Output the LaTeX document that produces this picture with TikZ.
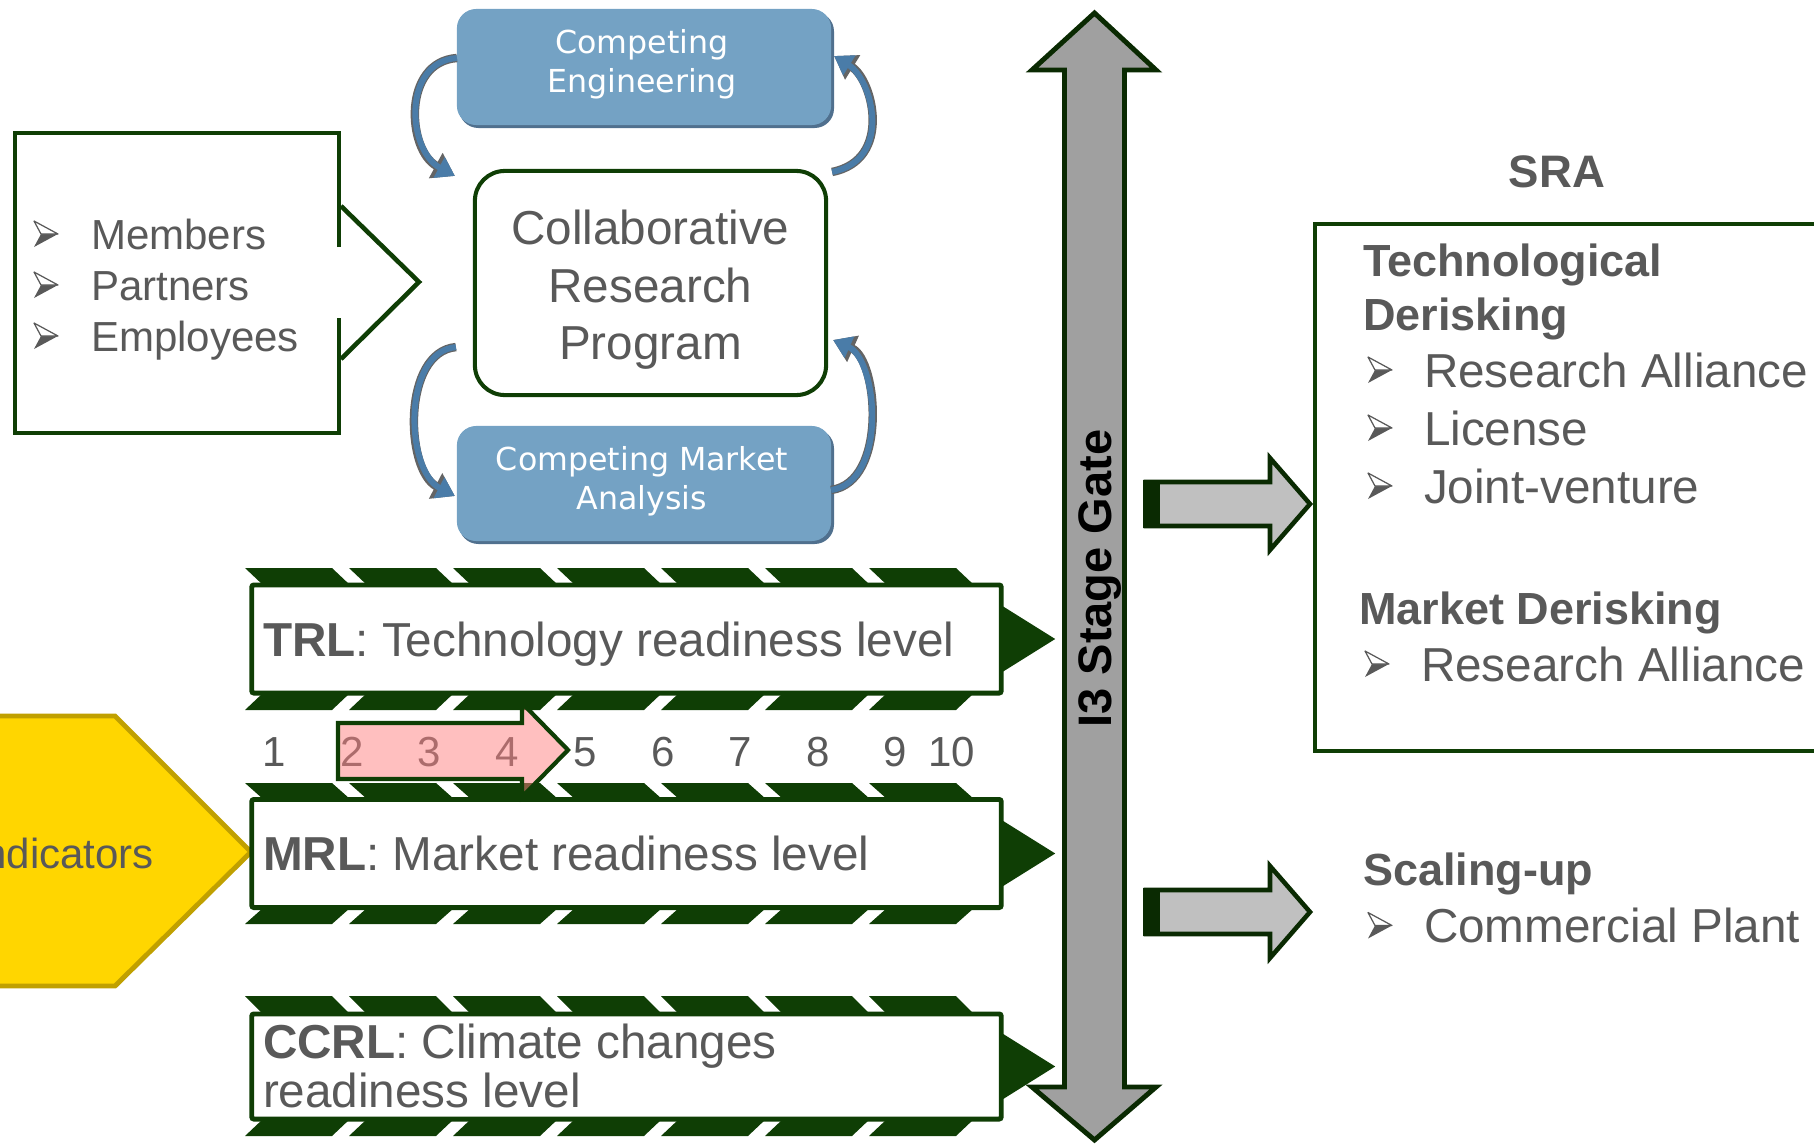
\documentclass[tikz,border=0pt]{standalone}
\usepackage{fontspec}
\setmainfont{Liberation Sans}
\newfontfamily\verdfont{DejaVu Sans}
\usetikzlibrary{arrows.meta,calc}
\definecolor{dkg}{RGB}{15,62,5}
\definecolor{dkb}{RGB}{10,42,2}
\definecolor{tgray}{RGB}{89,89,89}
\definecolor{ceblue}{RGB}{116,162,196}
\definecolor{ceshadow}{RGB}{80,112,142}
\definecolor{cblue}{RGB}{74,124,168}
\definecolor{cedge}{RGB}{100,100,100}
\definecolor{gatefill}{RGB}{160,160,160}
\definecolor{arrfill}{RGB}{192,192,192}
\definecolor{gold}{RGB}{255,214,0}
\definecolor{goldb}{RGB}{192,160,0}
\definecolor{pinkr}{RGB}{255,128,128}

\newcommand\bulletmark[2]{%
  \fill[tgray] (#1-5,#2) -- (#1+12,#2) -- (#1-12,#2+13) -- cycle;
  \filldraw[fill=white,draw=tgray,line width=0.35pt,line join=round] (#1-5,#2) -- (#1+12,#2) -- (#1-12,#2-13) -- cycle;}
\newcommand\bluecurve[4]{%
  \draw[draw=cedge,line width=2.4pt,-{Triangle[length=6.2pt,width=7.8pt]}] #1 .. controls #2 and #3 .. #4;
  \draw[draw=cblue,line width=1.7pt,-{Triangle[length=5.1pt,width=6.4pt]}] #1 .. controls #2 and #3 .. #4;}
\newcommand\stripeband[2]{%
  \foreach \k in {0,...,6}{\fill[dkg] (245+104*\k,#1) -- (332+104*\k,#1) -- (350+104*\k,#2) -- (263+104*\k,#2) -- cycle;}}
\newcommand\bannertip[1]{%
  \fill[dkg] ($(#1.east)+(-2,-35)$) -- ($(#1.east)+(54,0)$) -- ($(#1.east)+(-2,35)$) -- cycle;}
\newcommand\rblock[1]{%
  \filldraw[fill=arrfill,draw=dkb,line width=1.3pt] (1146,#1-22) -- (1270,#1-22) -- (1270,#1-46) -- (1310,#1) -- (1270,#1+46) -- (1270,#1+22) -- (1146,#1+22) -- cycle;
  \fill[dkb] (1143,#1-24) rectangle (1160,#1+24);}

\begin{document}
\begin{tikzpicture}[x=0.01cm,y=-0.01cm,
  every node/.style={inner sep=0pt,outer sep=0pt},
  txt/.style={text=tgray,anchor=base west},
  ctxt/.style={text=tgray,anchor=base},
  fa/.style={font=\fontsize{11.95pt}{14.5pt}\selectfont},
  fb/.style={font=\fontsize{13.55pt}{16.4pt}\selectfont},
  fh/.style={font=\fontsize{12.8pt}{15.4pt}\selectfont\bfseries},
  fv/.style={font=\verdfont\fontsize{9pt}{11pt}\selectfont},
  banner/.style={draw=dkg,line width=1.4pt,fill=white,rounded corners=0.6pt,minimum width=7.49cm,minimum height=1.08cm},
  cebox/.style={fill=ceblue,rounded corners=5.5pt,minimum width=3.74cm,minimum height=1.16cm},
]
\clip (0,0) rectangle (1814,1145);

% Indicators pentagon
\filldraw[fill=gold,draw=goldb,line width=1.4pt] (-60,716) -- (115,716) -- (251,852) -- (115,986) -- (-60,986) -- cycle;
\node[txt,fa,anchor=base east] (ind) at (154,868) {Indicators};

% I3 stage gate double arrow
\filldraw[fill=gatefill,draw=dkb,line width=1.4pt,line join=miter]
  (1094.5,13) -- (1156,70) -- (1124.5,70) -- (1124.5,1087) -- (1156,1087) -- (1094.5,1140)
  -- (1032,1087) -- (1064.5,1087) -- (1064.5,70) -- (1032,70) -- cycle;
\node[rotate=90,anchor=base,font=\fontsize{13.37pt}{16pt}\selectfont\bfseries] (gate) at (1111.5,578.5) {I3 Stage Gate};

% striped bands
\stripeband{568}{585}\stripeband{710}{693}
\stripeband{783}{799}\stripeband{924}{908}
\stripeband{996}{1014}\stripeband{1136}{1119}

% banners
\node[banner] (trl) at (626.5,639) {};
\node[banner] (mrl) at (626.5,853.5) {};
\node[banner,minimum height=1.05cm] (ccrl) at (626.5,1066.5) {};
\bannertip{trl}\bannertip{mrl}\bannertip{ccrl}
\node[txt,fb] (trlt) at (263,656) {\textbf{TRL}: Technology readiness level};
\node[txt,fb] (mrlt) at (263,870) {\textbf{MRL}: Market readiness level};
\node[txt,fb] (ccrlt1) at (263,1058) {\textbf{CCRL}: Climate changes};
\node[txt,fb] (ccrlt2) at (263,1107) {readiness level};

% scale numbers
\foreach \n/\x in {1/274,2/352,3/429,4/507,5/585,6/663,7/740,8/818,9/895,10/952}
  \node[ctxt,fa] (num\n) at (\x,766) {\n};
\filldraw[fill=pinkr,fill opacity=0.5,draw=dkg,line width=1.2pt]
  (338,723) -- (522,723) -- (522,703) -- (568,750) -- (522,797) -- (522,779) -- (338,779) -- cycle;

% left box with arrow
\draw[dkg,line width=1.3pt] (339,247) -- (339,133) -- (15,133) -- (15,433) -- (339,433) -- (339,318);
\draw[dkg,line width=1.3pt] (341,206) -- (419,282) -- (341,359);
\bulletmark{46}{234}\bulletmark{46}{285}\bulletmark{46}{336}
\node[txt,fa] (mem) at (91,249) {Members};
\node[txt,fa] (par) at (91,300) {Partners};
\node[txt,fa] (emp) at (91,351) {Employees};

% competing boxes
\fill[ceshadow,rounded corners=5.5pt] (459,12) rectangle (834,128);
\node[cebox] (ce) at (644,67) {};
\node[anchor=base,text=white,fv] (cet1) at (642,53) {Competing};
\node[anchor=base,text=white,fv] (cet2) at (642,92.6) {Engineering};
\fill[ceshadow,rounded corners=5.5pt] (459,429) rectangle (834,544);
\node[cebox,minimum height=1.15cm] (cma) at (644,483.5) {};
\node[anchor=base,text=white,fv] (cmat1) at (642,470) {Competing Market};
\node[anchor=base,text=white,fv] (cmat2) at (642,509) {Analysis};

% collaborative research program
\node[draw=dkg,line width=1.15pt,rounded corners=8.5pt,minimum width=3.51cm,minimum height=2.24cm] (crp) at (650.5,283) {};
\node[ctxt,fb] (crp1) at (650.5,244) {Collaborative};
\node[ctxt,fb] (crp2) at (650.5,302) {Research};
\node[ctxt,fb] (crp3) at (650.5,359) {Program};

% curved arrows
\bluecurve{($(ce.west)+(0,-9)$)}{(402,62)}{(407,150)}{($(crp.north west)+(-20,5)$)}
\bluecurve{($(crp.north east)+(6,1)$)}{(893,160)}{(873,80)}{($(ce.east)+(3,-11)$)}
\bluecurve{($(crp.south west)+(-19,-48)$)}{(402,352)}{(405,470)}{($(cma.west)+(-2,12.5)$)}
\bluecurve{($(cma.east)+(0,6.5)$)}{(888,482)}{(878,360)}{($(crp.east)+(7,57)$)}

% right block arrows
\rblock{504}
\rblock{912}

% SRA
\node[ctxt,font=\fontsize{12.95pt}{15pt}\selectfont\bfseries] (sra) at (1557,187) {SRA};
\draw[dkg,line width=1.2pt] (1900,224) -- (1315,224) -- (1315,751) -- (1900,751);
\node[txt,fh] (td1) at (1363,276) {Technological};
\node[txt,fh] (td2) at (1363,330) {Derisking};
\bulletmark{1380}{370}\bulletmark{1380}{428}\bulletmark{1380}{486}
\node[txt,fb] (ra1) at (1424,387) {Research Alliance};
\node[txt,fb] (lic) at (1424,445) {License};
\node[txt,fb] (jv) at (1424,503) {Joint-venture};
\node[txt,fh] (md) at (1359,624.6) {Market Derisking};
\bulletmark{1377}{664}
\node[txt,fb] (ra2) at (1421,681) {Research Alliance};
\node[txt,fh] (su) at (1363,885) {Scaling-up};
\bulletmark{1380}{925.5}
\node[txt,fb] (cp) at (1424,942.5) {Commercial Plant};
\end{tikzpicture}
\end{document}
